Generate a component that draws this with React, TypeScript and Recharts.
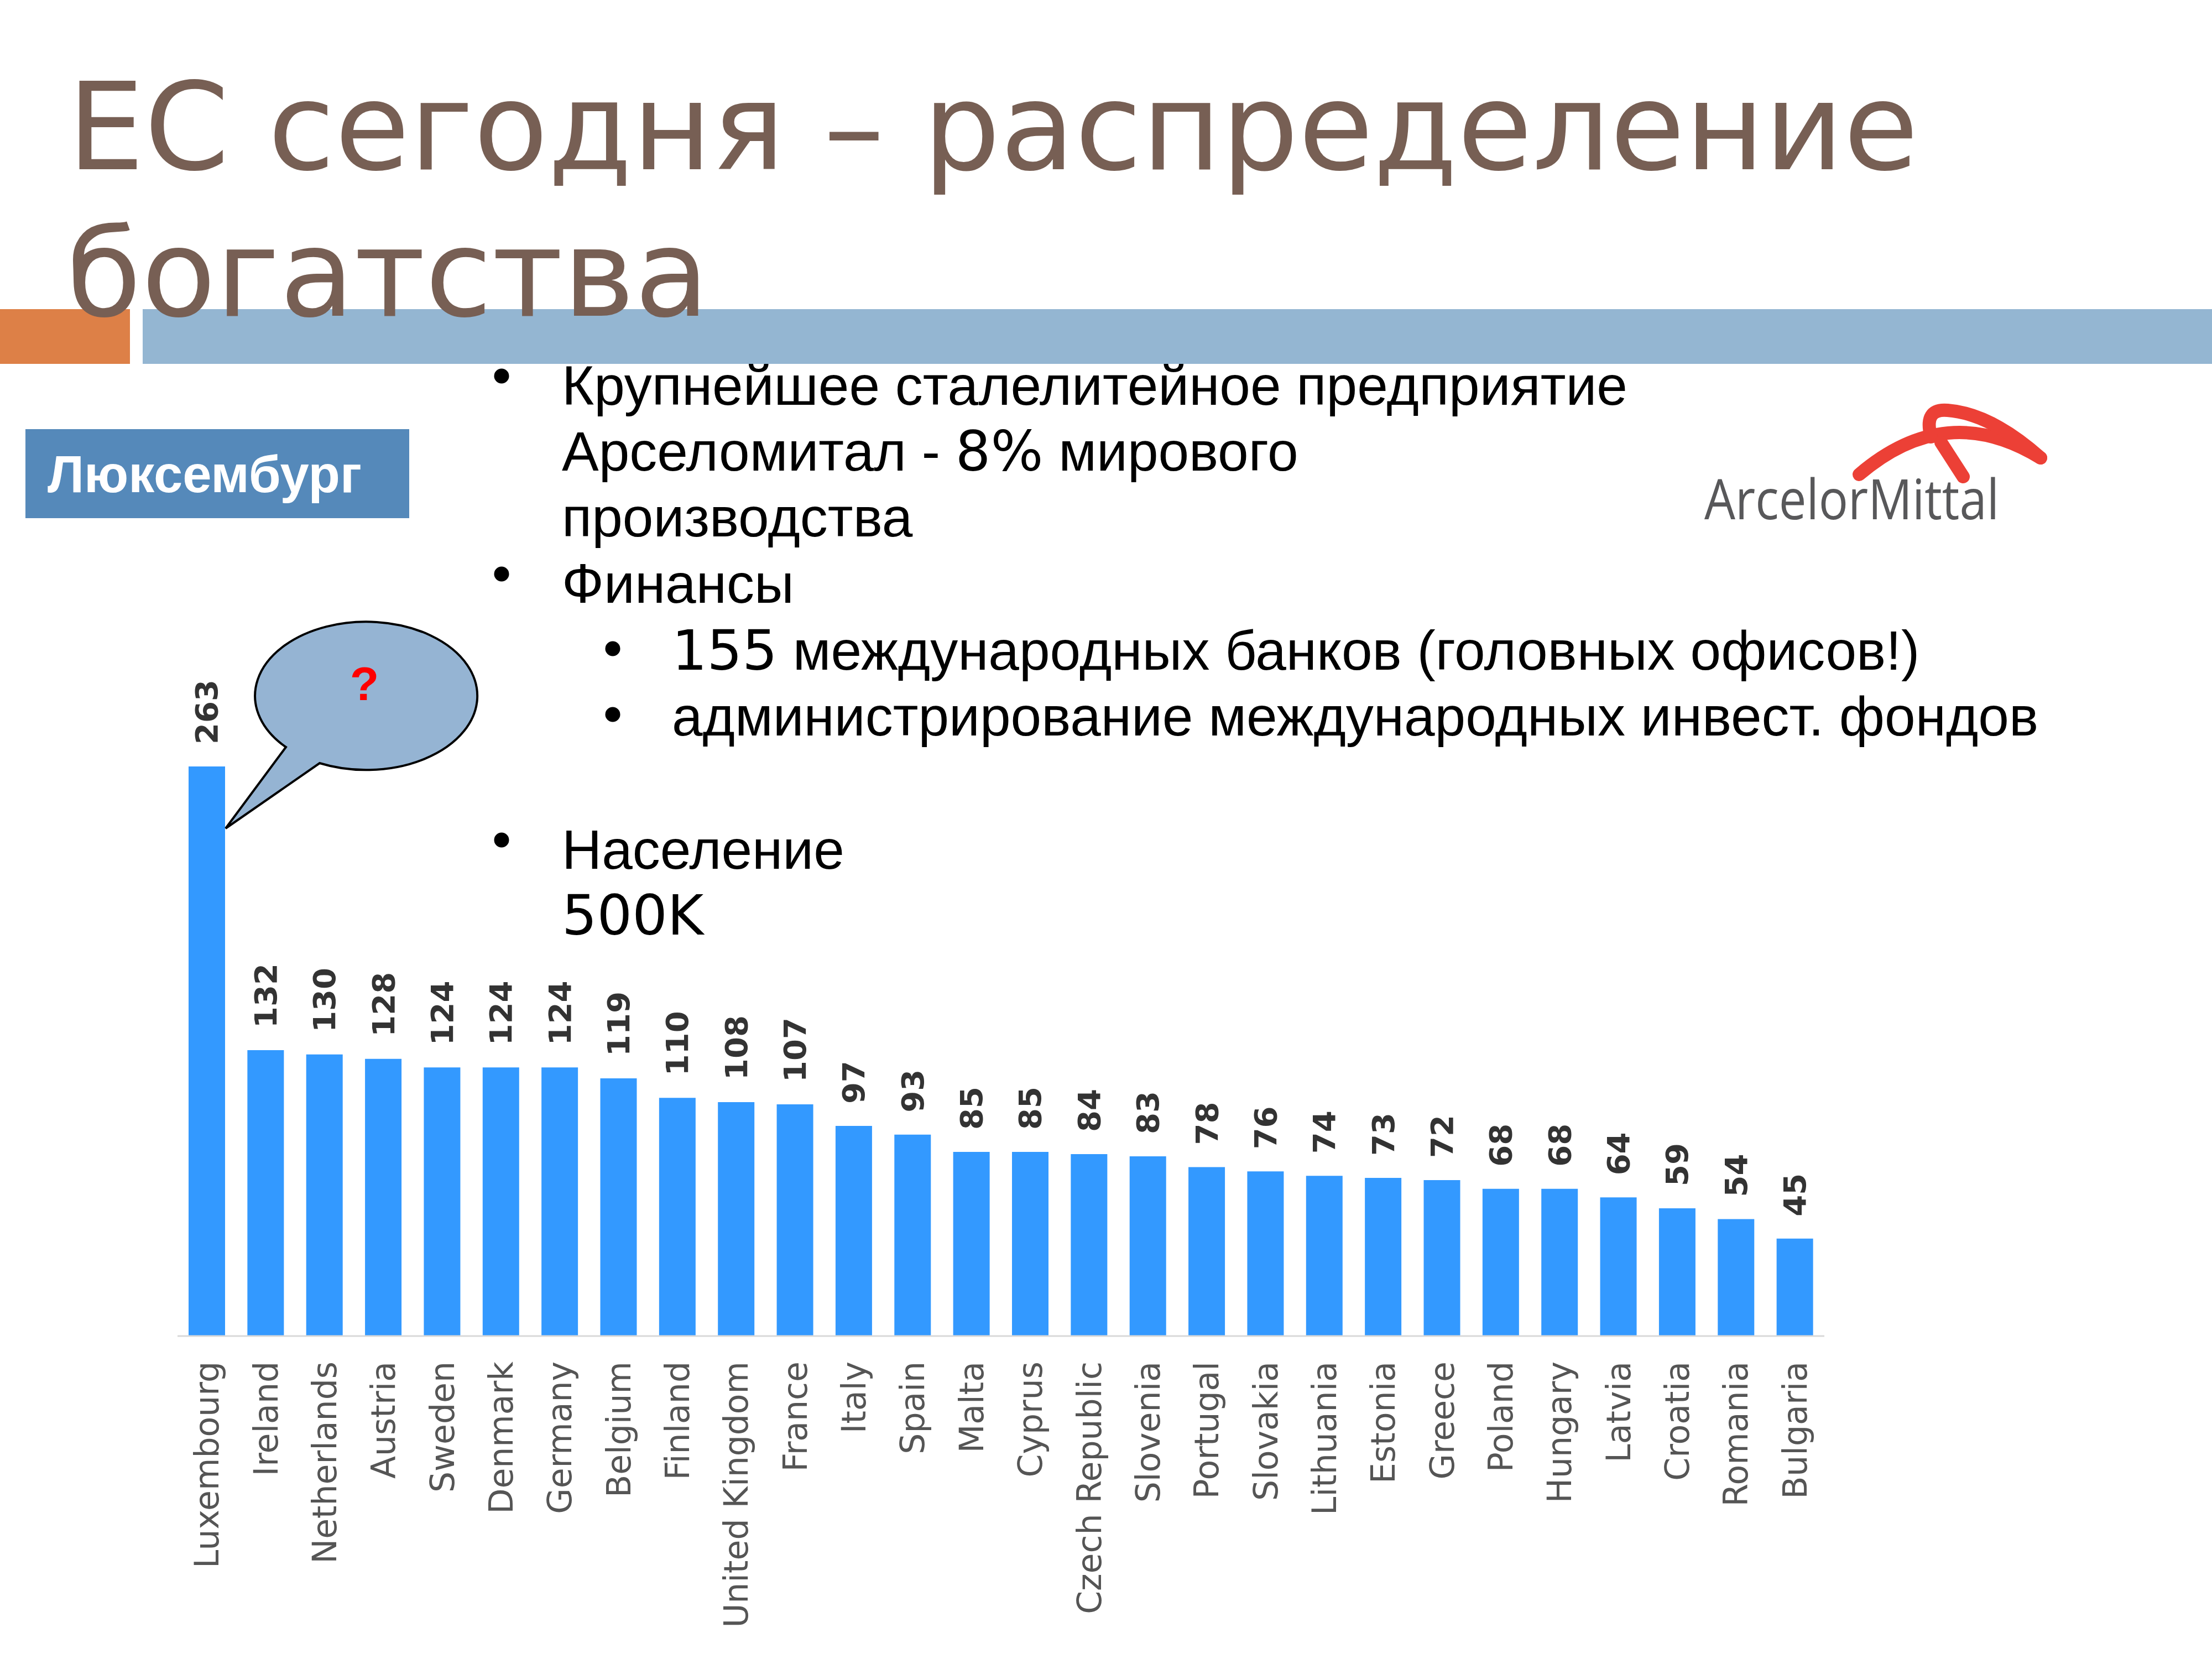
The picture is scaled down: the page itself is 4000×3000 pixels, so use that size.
import React from "react"
import { Bar, BarChart, LabelList, XAxis, YAxis } from "recharts"

const countries = [
  "Luxembourg", "Ireland", "Netherlands", "Austria", "Sweden", "Denmark", "Germany",
  "Belgium", "Finland", "United Kingdom", "France", "Italy", "Spain", "Malta",
  "Cyprus", "Czech Republic", "Slovenia", "Portugal", "Slovakia", "Lithuania",
  "Estonia", "Greece", "Poland", "Hungary", "Latvia", "Croatia", "Romania", "Bulgaria",
]
const gdpIndex = [
  263, 132, 130, 128, 124, 124, 124, 119, 110, 108, 107, 97, 93, 85,
  85, 84, 83, 78, 76, 74, 73, 72, 68, 68, 64, 59, 54, 45,
]

const data = countries.map((country, i) => ({ country, value: gdpIndex[i] }))

const CountryTick = (props: any) => {
  const { x, y, payload } = props
  const ty = y + 44
  return (
    <text
      x={x}
      y={ty}
      transform={`rotate(-90 ${x} ${ty})`}
      textAnchor="end"
      dominantBaseline="central"
      fontFamily="DejaVu Sans"
      fontSize={60}
      fill="#555555"
    >
      {payload.value}
    </text>
  )
}

const ValueLabel = (props: any) => {
  const { x, y, width, value } = props
  const cx = x + width / 2
  const cy = y - 40
  return (
    <text
      x={cx}
      y={cy}
      transform={`rotate(-90 ${cx} ${cy})`}
      textAnchor="start"
      dominantBaseline="central"
      fontFamily="DejaVu Sans"
      fontWeight="bold"
      fontSize={56}
      fill="#333333"
    >
      {value}
    </text>
  )
}

const lib = "Liberation Sans"
const dv = "DejaVu Sans"

function Slide() {
  return (
    <svg width={4000} height={3000} style={{ position: "absolute", left: 0, top: 0 }}>
      {/* bullets */}
      <g fontFamily={lib} fontSize={100} fill="#000">
        <circle cx={907} cy={680} r={13.5} />
        <text x={1016} y={732}>Крупнейшее сталелитейное предприятие</text>
        <text x={1016} y={851}>
          Арселомитал - <tspan fontFamily={dv}>8%</tspan> мирового
        </text>
        <text x={1016} y={970}>производства</text>
        <circle cx={907} cy={1038} r={13.5} />
        <text x={1016} y={1090}>Финансы</text>
        <circle cx={1108} cy={1173} r={13.5} />
        <text x={1215} y={1211}>
          <tspan fontFamily={dv}>155</tspan> международных банков (головных офисов!)
        </text>
        <circle cx={1108} cy={1292} r={13.5} />
        <text x={1215} y={1330}>администрирование международных инвест. фондов</text>
        <circle cx={907} cy={1519} r={13.5} />
        <text x={1016} y={1571}>Население</text>
        <text x={1016} y={1690} fontFamily={dv}>500K</text>
      </g>

      {/* header strips */}
      <rect x={0} y={559} width={235} height={99} fill="#DD8047" />
      <rect x={258} y={559} width={3742} height={99} fill="#94B6D2" />

      {/* title */}
      <g fontFamily={dv} fontSize={220} fill="#775F54">
        <text x={122} y={306}>ЕС сегодня – распределение</text>
        <text x={120} y={571}>богатства</text>
      </g>

      {/* country box */}
      <rect x={46} y={776} width={694} height={161} fill="#5589BA" />
      <text x={86} y={890} fontFamily={lib} fontWeight="bold" fontSize={94} fill="#fff">
        Люксембург
      </text>

      {/* logo */}
      <g fill="none" stroke="#EC4036" strokeWidth={24} strokeLinecap="round">
        <path d="M 3362 858 Q 3520 723 3690 828" />
        <path d="M 3492 790 Q 3478 738 3522 742 Q 3600 748 3690 828" />
        <path d="M 3510 800 L 3550 862" />
      </g>
      <text
        x={3082}
        y={939}
        fontFamily="Open Sans"
        fontSize={100}
        fill="#58585A"
        textLength={533}
        lengthAdjust="spacingAndGlyphs"
      >
        ArcelorMittal
      </text>

      {/* callout */}
      <path
        d="M 517 1351 L 408 1498 L 578 1380 A 201 134 0 1 0 517 1351 Z"
        fill="#95B4D3"
        stroke="#000"
        strokeWidth={4}
        strokeLinejoin="miter"
      />
      <text
        x={659}
        y={1266}
        textAnchor="middle"
        fontFamily={lib}
        fontWeight="bold"
        fontSize={86}
        fill="#FF0000"
      >
        ?
      </text>
    </svg>
  )
}

export default function App() {
  return (
    <div style={{ position: "absolute", left: 0, top: 0, width: 4000, height: 3000, background: "#fff" }}>
      <div style={{ position: "absolute", left: 0, top: 1100 }}>
        <BarChart
          width={4000}
          height={1900}
          data={data}
          margin={{ top: 141, right: 701, left: 321, bottom: 0 }}
        >
          <XAxis
            dataKey="country"
            interval={0}
            height={584}
            tick={<CountryTick />}
            tickLine={false}
            tickSize={0}
            axisLine={{ stroke: "#D9D9D9", strokeWidth: 3 }}
          />
          <YAxis hide domain={[0, 300]} />
          <Bar dataKey="value" fill="#3399FF" barSize={66} isAnimationActive={false}>
            <LabelList dataKey="value" content={<ValueLabel />} />
          </Bar>
        </BarChart>
      </div>
      <Slide />
    </div>
  )
}
